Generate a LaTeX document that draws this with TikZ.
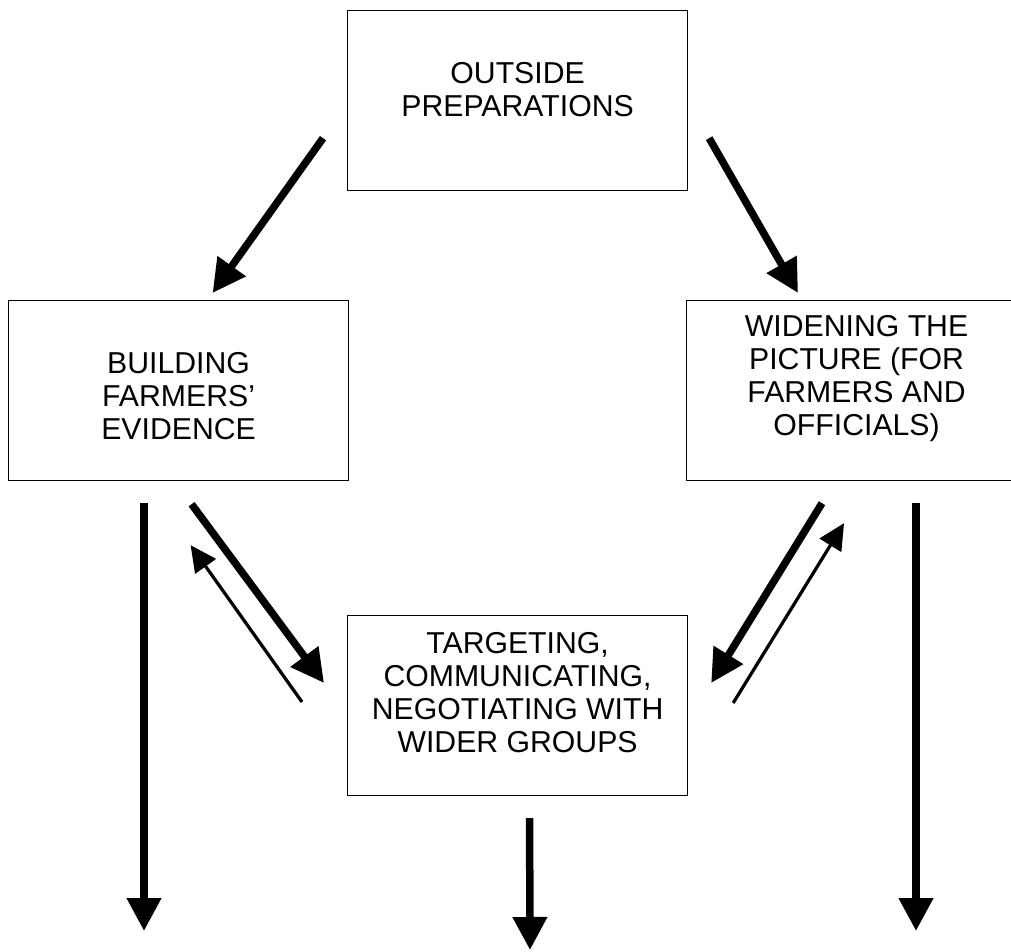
\documentclass[tikz,border=0pt]{standalone}
\usepackage{fontspec}
\setmainfont{Liberation Sans}
\usetikzlibrary{arrows.meta}

\newcommand{\stagetext}[2]{\parbox[t][3.6cm][t]{6.8cm}{\centering\rule{0pt}{#1}#2}}

\tikzset{
  stage/.style={draw, line width=0.7pt, inner sep=0pt, anchor=north west,
    font=\fontsize{17.2}{18.8}\selectfont},
  bigarrow/.style={line width=0.15cm, -{Triangle[length=0.66cm,width=0.66cm]}},
  smallarrow/.style={line width=0.065cm, -{Triangle[length=0.52cm,width=0.5cm]}}
}

\begin{document}
\begin{tikzpicture}[x=0.02cm, y=-0.02cm]
  \useasboundingbox (0,0) rectangle (1011,952);
  \clip (0,0) rectangle (1011,952);

  \node[stage, name=outside] at (347,10)
    {\stagetext{1.46cm}{OUTSIDE\\PREPARATIONS}};
  \node[stage, name=building] at (8,300)
    {\stagetext{1.46cm}{BUILDING\\FARMERS’\\EVIDENCE}};
  \node[stage, name=widening] at (686,300)
    {\stagetext{0.72cm}{WIDENING THE\\PICTURE (FOR\\FARMERS AND\\OFFICIALS)}};
  \node[stage, name=targeting] at (347,615)
    {\stagetext{0.76cm}{TARGETING,\\COMMUNICATING,\\NEGOTIATING WITH\\WIDER GROUPS}};

  \coordinate (leftout) at (144,931);
  \coordinate (midout) at (530,950);
  \coordinate (rightout) at (916,931);

  \draw[bigarrow] ([shift={(-24,-53)}]outside.south west) -- ([shift={(34,-7)}]building.north);
  \draw[bigarrow] ([shift={(21,-53)}]outside.south east) -- ([shift={(112,-7)}]widening.north west);
  \draw[bigarrow] ([shift={(13,23)}]building.south) -- ([shift={(-23,68)}]targeting.north west);
  \draw[smallarrow] ([shift={(-45,87)}]targeting.north west) -- ([shift={(12,64)}]building.south);
  \draw[bigarrow] ([shift={(136,22)}]widening.south west) -- ([shift={(23,68)}]targeting.north east);
  \draw[smallarrow] ([shift={(45,88)}]targeting.north east) -- ([shift={(158,42)}]widening.south west);

  \draw[bigarrow] ([shift={(136,22)}]building.south west) -- (leftout);
  \draw[bigarrow] ([shift={(230,22)}]widening.south west) -- (rightout);
  \draw[bigarrow] ([shift={(12,22)}]targeting.south) -- (midout);
\end{tikzpicture}
\end{document}
